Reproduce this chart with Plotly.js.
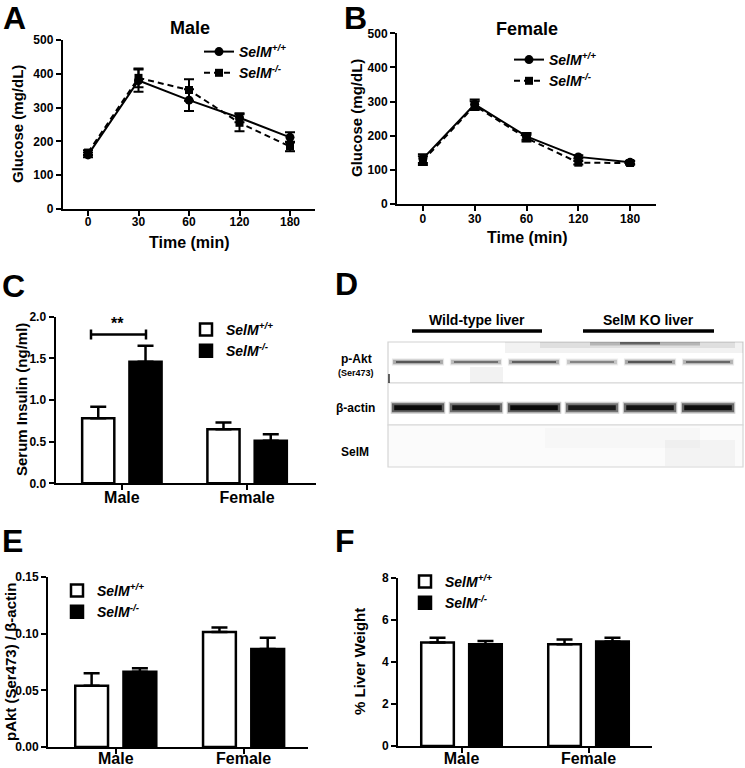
<!DOCTYPE html>
<html><head><meta charset="utf-8">
<script src="https://cdn.plot.ly/plotly-3.0.1.min.js"></script>
<style>html,body{margin:0;padding:0;background:#fff}#chart{width:745px;height:768px}</style>
</head><body><div id="chart"></div>
<script>
// ---------------- DATA ----------------
const timeLabels = ['0', '30', '60', '120', '180'];
const maleWT = [160, 380, 322, 270, 212];
const maleWTErr = [7, 33, 32, 13, 15];
const maleKO = [167, 388, 352, 255, 185];
const maleKOErr = [7, 28, 32, 25, 14];
const femaleWT = [133, 292, 198, 138, 122];
const femaleWTErr = [13, 14, 10, 5, 5];
const femaleKO = [127, 288, 193, 121, 120];
const femaleKOErr = [13, 13, 10, 5, 5];

const sexGroups = ['Male', 'Female'];
const insulinWT = [0.78, 0.65];
const insulinWTErr = [0.14, 0.08];
const insulinKO = [1.46, 0.51];
const insulinKOErr = [0.19, 0.08];

const pAktWT = [0.054, 0.1015];
const pAktWTErr = [0.011, 0.004];
const pAktKO = [0.0665, 0.0865];
const pAktKOErr = [0.003, 0.010];

const liverWT = [4.93, 4.85];
const liverWTErr = [0.22, 0.22];
const liverKO = [4.85, 4.98];
const liverKOErr = [0.15, 0.17];

const blotLanes = [1, 2, 3, 4, 5, 6];
const pAktBand = [0.70, 0.55, 0.65, 0.45, 0.72, 0.60];
const actinBand = [1.0, 0.9, 1.0, 0.85, 0.9, 0.95];

const wtName = '<i>SelM</i><sup>+/+</sup>';
const koName = '<i>SelM</i><sup>-/-</sup>';

// ---------------- HELPERS ----------------
const W = 745, H = 768;
const px = x => x / W;
const py = y => 1 - y / H;
const FF = '"Liberation Sans", Arial, Helvetica, sans-serif';
const bold = (s, extra) => Object.assign({family: FF, size: s, color: '#000', weight: 700}, extra || {});

function axisBase(extra) {
  return Object.assign({
    showline: true, linewidth: 2, linecolor: '#000', mirror: false,
    ticks: 'outside', ticklen: 5, tickwidth: 2, tickcolor: '#000',
    showgrid: false, zeroline: false, fixedrange: true,
    tickfont: bold(12)
  }, extra);
}

const traces = [];

function lineTraces(wt, wtErr, ko, koErr, xa, ya, leg) {
  traces.push({
    type: 'scatter', mode: 'lines+markers', x: timeLabels, y: wt, xaxis: xa, yaxis: ya,
    name: wtName, legend: leg, cliponaxis: false,
    line: {color: '#000', width: 2}, marker: {symbol: 'circle', size: 9, color: '#000'},
    error_y: {type: 'data', array: wtErr, visible: true, color: '#000', thickness: 2, width: 5}
  });
  traces.push({
    type: 'scatter', mode: 'lines+markers', x: timeLabels, y: ko, xaxis: xa, yaxis: ya,
    name: koName, legend: leg, cliponaxis: false,
    line: {color: '#000', width: 2, dash: '6px,4px'}, marker: {symbol: 'square', size: 8, color: '#000'},
    error_y: {type: 'data', array: koErr, visible: true, color: '#000', thickness: 2, width: 5}
  });
}

function barTraces(wt, wtErr, ko, koErr, xa, ya, leg) {
  const zeros = wt.map(() => 0);
  traces.push({
    type: 'bar', x: sexGroups, y: wt, xaxis: xa, yaxis: ya, name: wtName, legend: leg,
    marker: {color: '#fff', line: {color: '#000', width: 2.5}},
    error_y: {type: 'data', array: wtErr, arrayminus: zeros, symmetric: false, visible: true,
              color: '#000', thickness: 2.5, width: 8}
  });
  traces.push({
    type: 'bar', x: sexGroups, y: ko, xaxis: xa, yaxis: ya, name: koName, legend: leg,
    marker: {color: '#000', line: {color: '#000', width: 2.5}},
    error_y: {type: 'data', array: koErr, arrayminus: zeros, symmetric: false, visible: true,
              color: '#000', thickness: 2.5, width: 8}
  });
}

lineTraces(maleWT, maleWTErr, maleKO, maleKOErr, 'x', 'y', 'legend');
lineTraces(femaleWT, femaleWTErr, femaleKO, femaleKOErr, 'x2', 'y2', 'legend2');
barTraces(insulinWT, insulinWTErr, insulinKO, insulinKOErr, 'x3', 'y3', 'legend3');
barTraces(pAktWT, pAktWTErr, pAktKO, pAktKOErr, 'x4', 'y4', 'legend4');
barTraces(liverWT, liverWTErr, liverKO, liverKOErr, 'x5', 'y5', 'legend5');

// Western blot bands (panel D), drawn on hidden axes x6/y6 as soft layered strokes
const pAktRow = 20, actinRow = 65.7;
const pAktLayers = [{half: 0.45, w: 7, k: 0.18}, {half: 0.43, w: 4.5, k: 0.45}, {half: 0.38, w: 2, k: 0.95}];
const actinLayers = [{half: 0.47, w: 12, k: 0.22}, {half: 0.45, w: 9, k: 0.55}, {half: 0.41, w: 5, k: 1.0}];
function band(lane, row, layers, a, rgb) {
  layers.forEach(L => traces.push({
    type: 'scatter', mode: 'lines', x: [lane - L.half, lane + L.half], y: [row, row],
    xaxis: 'x6', yaxis: 'y6', showlegend: false, hoverinfo: 'skip',
    line: {color: `rgba(${rgb},${Math.min(1, L.k * a).toFixed(3)})`, width: L.w}
  }));
}
blotLanes.forEach((lane, i) => {
  band(lane, pAktRow, pAktLayers, pAktBand[i], '45,45,45');
  band(lane, actinRow, actinLayers, actinBand[i], '10,10,10');
});

// ---------------- LAYOUT ----------------
const legendBase = (x, yTop) => ({
  x: px(x), y: py(yTop), xanchor: 'left', yanchor: 'top',
  font: bold(14, {style: 'italic'}), bgcolor: 'rgba(0,0,0,0)', borderwidth: 0,
  tracegroupgap: 0, itemwidth: 30, itemclick: false, itemdoubleclick: false
});

const ann = (text, x, y, size, extra) => Object.assign({
  text: text, x: px(x), y: py(y), xref: 'paper', yref: 'paper', showarrow: false,
  xanchor: 'center', yanchor: 'middle', font: bold(size)
}, extra || {});

const annotations = [
  ann('A', 15, 18, 32), ann('B', 355, 18, 32), ann('C', 14, 286, 32),
  ann('D', 346, 284, 32), ann('E', 13, 541, 32), ann('F', 345, 541, 32),
  ann('Male', 190, 28, 18), ann('Female', 527, 29, 18),
  ann('Glucose (mg/dL)', 17, 124, 15, {textangle: -90}),
  ann('Glucose (mg/dL)', 356, 118, 15, {textangle: -90}),
  ann('Time (min)', 189, 242, 16), ann('Time (min)', 527, 238, 16),
  ann('Serum Insulin (ng/ml)', 21, 400, 15, {textangle: -90}),
  ann('pAkt (Ser473) / β-actin', 10, 662, 15, {textangle: -90}),
  ann('% Liver Weight', 359, 662, 15, {textangle: -90}),
  ann('**', 117, 323, 16),
  ann('Wild-type liver', 477, 320, 14), ann('SelM KO liver', 648, 320, 14),
  ann('p-Akt', 356, 359, 12), ann('(Ser473)', 356, 373, 9),
  ann('β-actin', 355, 408, 12), ann('SelM', 355, 452, 12)
];

const lineShape = (x0, y0, x1, y1, w, c) => ({type: 'line', xref: 'paper', yref: 'paper',
  x0: px(x0), y0: py(y0), x1: px(x1), y1: py(y1), line: {color: c || '#000', width: w}});
const rectShape = (x0, y0, x1, y1, fill, lc, lw) => ({type: 'rect', xref: 'paper', yref: 'paper', layer: 'below',
  x0: px(x0), y0: py(y0), x1: px(x1), y1: py(y1), fillcolor: fill,
  line: {color: lc || 'rgba(0,0,0,0)', width: lw || 0}});

const shapes = [
  // significance bracket (panel C)
  lineShape(91, 334.5, 146, 334.5, 2.5), lineShape(91, 329.5, 91, 339.5, 2.5), lineShape(146, 329.5, 146, 339.5, 2.5),
  // group underlines (panel D)
  lineShape(412, 331, 542, 331, 3.5), lineShape(583, 331, 714, 331, 3.5),
  // blot strips
  rectShape(388, 342, 743, 383, '#ffffff', '#d2d2d2', 1.2),
  rectShape(388, 383, 743, 425, '#ffffff', '#d6d6d6', 1.2),
  rectShape(388, 425, 743, 467, '#fbfbfb', '#d6d6d6', 1.2),
  // background smear on p-Akt strip
  rectShape(505, 342, 743, 353, 'rgba(0,0,0,0.05)'),
  rectShape(540, 342, 735, 348, 'rgba(0,0,0,0.08)'),
  rectShape(590, 342, 700, 345.5, 'rgba(0,0,0,0.18)'),
  rectShape(620, 342, 660, 344.5, 'rgba(0,0,0,0.45)'),
  rectShape(470, 367, 503, 383, 'rgba(0,0,0,0.05)'),
  rectShape(388, 374, 390, 383, 'rgba(0,0,0,0.6)'),
  rectShape(665, 440, 735, 466, 'rgba(0,0,0,0.03)'),
  rectShape(545, 428, 700, 448, 'rgba(0,0,0,0.015)')
];

const layout = {
  width: W, height: H, margin: {l: 0, r: 0, t: 0, b: 0},
  paper_bgcolor: '#fff', plot_bgcolor: 'rgba(0,0,0,0)',
  font: {family: FF, color: '#000'},
  barmode: 'group', bargap: 0.245, bargroupgap: 0.32,
  showlegend: true,
  // Panel A
  xaxis: axisBase({domain: [px(62.75), px(315.25)], anchor: 'y', type: 'category', range: [-0.5, 4.5], ticklabelstandoff: -4}),
  yaxis: axisBase({domain: [py(209), py(40)], anchor: 'x', range: [0, 500], dtick: 100}),
  // Panel B
  xaxis2: axisBase({domain: [px(397), px(656)], anchor: 'y2', type: 'category', range: [-0.5, 4.5], ticklabelstandoff: -2}),
  yaxis2: axisBase({domain: [py(204), py(33.3)], anchor: 'x2', range: [0, 500], dtick: 100}),
  // Panel C
  xaxis3: axisBase({domain: [px(55.5), px(316)], anchor: 'y3', type: 'category', range: [-0.53, 1.55], tickfont: bold(16), ticklabelstandoff: -7}),
  yaxis3: axisBase({domain: [py(483.3), py(316.7)], anchor: 'x3', range: [0, 2], dtick: 0.5, tickformat: '.1f'}),
  // Panel E
  xaxis4: axisBase({domain: [px(48), px(307.5)], anchor: 'y4', type: 'category', range: [-0.53, 1.5], tickfont: bold(16), ticklabelstandoff: -9}),
  yaxis4: axisBase({domain: [py(747), py(577)], anchor: 'x4', range: [0, 0.15], dtick: 0.05, tickformat: '.2f'}),
  // Panel F
  xaxis5: axisBase({domain: [px(398), px(652)], anchor: 'y5', type: 'category', range: [-0.5, 1.5], tickfont: bold(16), ticklabelstandoff: -8}),
  yaxis5: axisBase({domain: [py(746), py(578)], anchor: 'x5', range: [0, 8], dtick: 2}),
  // Panel D (blot, hidden axes)
  xaxis6: {domain: [px(388), px(743)], anchor: 'y6', range: [0.4828, 6.603], visible: false, fixedrange: true},
  yaxis6: {domain: [py(467), py(342)], anchor: 'x6', range: [125, 0], visible: false, fixedrange: true},
  legend: legendBase(199, 36),
  legend2: legendBase(509, 44),
  legend3: legendBase(186, 314),
  legend4: legendBase(57, 575),
  legend5: legendBase(405, 566),
  annotations: annotations,
  shapes: shapes
};

Plotly.newPlot('chart', traces, layout, {displayModeBar: false, staticPlot: true});
</script>
</body></html>
